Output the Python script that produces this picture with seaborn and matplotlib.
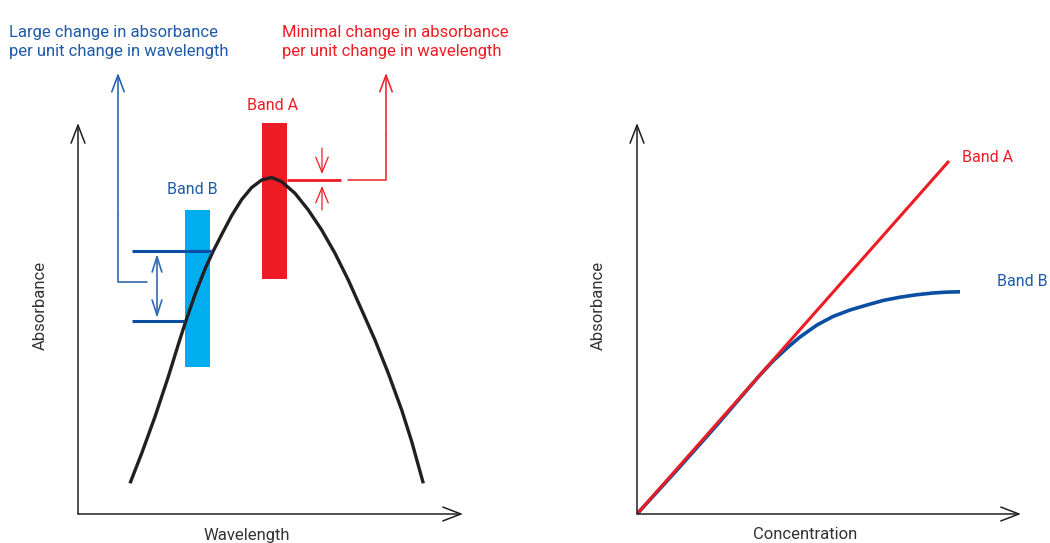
import matplotlib
matplotlib.use("Agg")
import matplotlib.pyplot as plt
import seaborn as sns
import pandas as pd

# colours
RED = "#ED1C24"
CYAN = "#00AEEF"
DBLUE = "#0B4EA2"
TBLUE = "#1F5BA8"
INK = "#231F20"

# left panel: absorbance spectrum (axis units, origin at the axis corner)
spec_x = [52, 63.7, 77, 90.3, 100.3, 107, 117, 127, 135.3, 143.7, 153.7, 163.7,
          173.7, 183.7, 193.7, 203.7, 217, 230.3, 243.7, 257, 270.3, 283.7,
          297, 310.3, 323.7, 333.7, 345.3]
spec_y = [30.7, 60.7, 97.3, 137.3, 169.5, 190.5, 219.5, 245, 263, 279.5, 298.5,
          314.5, 326.5, 334, 336.5, 332.3, 320.7, 304, 284, 260.7, 234, 204,
          174, 140.7, 104, 72.5, 30.7]

band_names = ["Band B", "Band A"]
band_center = [119.5, 196.5]
band_bottom = [147, 235]
band_top = [304, 391]
band_colors = [CYAN, RED]

# absorbance levels read where band B edges cut the curve
bandB_levels = [263, 193]
bandB_level_end = [134, 106]
bandA_level = 334

# right panel: calibration curves
conc_a = [0, 312]
abs_a = [0, 353]
conc_b = [0, 40, 80, 110, 123, 136, 150, 163, 180, 196, 213, 230, 246, 263,
          280, 296, 310, 323]
abs_b = [0, 44, 89, 124, 139, 153, 166, 177, 189, 197.5, 204, 209, 213.5,
         216.8, 219.3, 221, 221.9, 222.2]

sns.set_theme(style="white")
plt.rcParams["font.family"] = ["Roboto", "DejaVu Sans"]

fig = plt.figure(figsize=(10.5, 5.43), dpi=100)
W, H = 1050, 543
ax1 = fig.add_axes([78 / W, 29 / H, 400 / W, 400 / H])
ax2 = fig.add_axes([637 / W, 29 / H, 400 / W, 400 / H])
for ax in (ax1, ax2):
    ax.set_xlim(0, 400)
    ax.set_ylim(0, 400)
    ax.set_axis_off()


def arrow(ax, start, tip, color, lw, style="->", hl=1.3, hw=0.5):
    ax.annotate("", xy=tip, xytext=start, annotation_clip=False,
                arrowprops=dict(arrowstyle=f"{style}, head_length={hl}, head_width={hw}",
                                color=color, lw=lw, shrinkA=0, shrinkB=0,
                                mutation_scale=10))


# ---- left panel ----
arrow(ax1, (0, 0), (0, 391), INK, 1.1)
arrow(ax1, (0, 0), (385, 0), INK, 1.1)

for c, b, t, col in zip(band_center, band_bottom, band_top, band_colors):
    ax1.bar(c, t - b, bottom=b, width=25, color=col, linewidth=0, zorder=1)

spec = pd.DataFrame({"wavelength": spec_x, "absorbance": spec_y})
sns.lineplot(data=spec, x="wavelength", y="absorbance", ax=ax1, color=INK,
             lw=2.4, sort=False, zorder=3, solid_capstyle="butt",
             solid_joinstyle="round")

for lvl, end in zip(bandB_levels, bandB_level_end):
    ax1.plot([54, end], [lvl, lvl], color=DBLUE, lw=2.2, zorder=4,
             solid_capstyle="butt")
arrow(ax1, (79, 196), (79, 260), "#2F6BB3", 1.2, "<->", 1.1, 0.35)

# blue bracket to the top note
ax1.plot([69, 40, 40], [232, 232, 300], color=TBLUE, lw=1.1)
arrow(ax1, (40, 300), (40, 441), TBLUE, 1.1, "->", 1.2, 0.45)

# red level at the band A peak
ax1.plot([209, 263], [bandA_level] * 2, color=RED, lw=2.0, zorder=4,
         solid_capstyle="butt")
ax1.plot([270, 308, 308], [bandA_level, bandA_level, 380], color=RED, lw=1.1)
arrow(ax1, (308, 380), (308, 441), RED, 1.1, "->", 1.2, 0.45)
arrow(ax1, (244, 366), (244, 340), RED, 0.9, "->", 1.1, 0.45)
arrow(ax1, (244, 304), (244, 328), RED, 0.9, "->", 1.1, 0.45)

ax1.text(195, 409, band_names[1], color=RED, fontsize=11.5, ha="center", va="center")
ax1.text(114, 324, band_names[0], color=TBLUE, fontsize=11.5, ha="center", va="center")

ax1.text(-69, 458, "Large change in absorbance\nper unit change in wavelength",
         color=TBLUE, fontsize=12, ha="left", va="baseline", linespacing=1.3)
ax1.text(204, 458, "Minimal change in absorbance\nper unit change in wavelength",
         color=RED, fontsize=12, ha="left", va="baseline", linespacing=1.3)

ax1.text(-38, 209, "Absorbance", color="#333333", fontsize=12, rotation=90,
         ha="center", va="center")
ax1.text(169, -14, "Wavelength", color="#333333", fontsize=12, ha="center", va="top")

# ---- right panel ----
arrow(ax2, (0, 0), (0, 391), INK, 1.1)
arrow(ax2, (0, 0), (384, 0), INK, 1.1)

cal_b = pd.DataFrame({"concentration": conc_b, "absorbance": abs_b})
cal_a = pd.DataFrame({"concentration": conc_a, "absorbance": abs_a})
sns.lineplot(data=cal_b, x="concentration", y="absorbance", ax=ax2, color=DBLUE,
             lw=2.6, sort=False, solid_capstyle="butt", solid_joinstyle="round")
sns.lineplot(data=cal_a, x="concentration", y="absorbance", ax=ax2, color=RED,
             lw=2.2, sort=False, solid_capstyle="butt")

ax2.text(325, 357, band_names[1], color=RED, fontsize=11.5, ha="left", va="center")
ax2.text(360, 232, band_names[0], color=TBLUE, fontsize=11.5, ha="left", va="center")

ax2.text(-39, 209, "Absorbance", color="#333333", fontsize=12, rotation=90,
         ha="center", va="center")
ax2.text(168, -13, "Concentration", color="#333333", fontsize=12, ha="center", va="top")

fig.savefig("out.png", dpi=100)
